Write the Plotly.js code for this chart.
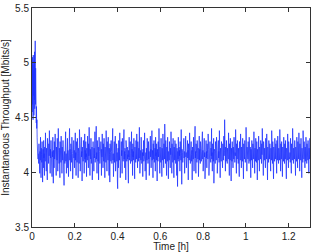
<!DOCTYPE html>
<html><head><meta charset="utf-8">
<script src="https://cdn.plot.ly/plotly-3.0.1.min.js"></script>
<style>html,body{margin:0;padding:0;background:#fff}#c{width:312px;height:252px}</style>
</head><body><div id="c"></div>
<script>
// Start-up transient (time step in hours)
const transientStart = 0;
const transientStep = 0.001;
const transientValues = [4.90,4.55,5.05,4.62,4.98,4.48,5.07,4.70,4.93,4.52,5.02,4.66,5.10,4.58,4.88,5.20,4.62,4.95,4.50,4.78,4.45,4.60,4.40,4.48,4.32,4.25,4.18,4.12];

// Steady-state throughput samples [Mbit/s]
const steadyStart = 0.03;
const steadyStep = 0.001223;
const steadyValues = [
4.17,4.08,4.26,4.13,4.20,3.99,4.19,4.11,4.32,4.14,3.95,4.22,4.16,4.09,4.28,4.12,3.91,4.18,4.21,4.04,
4.29,4.13,4.17,3.97,4.23,4.15,4.10,4.36,4.12,4.19,4.01,4.22,4.14,4.18,3.93,4.31,4.16,4.11,4.20,4.08,
4.26,4.15,4.38,4.10,4.18,3.99,4.21,4.13,4.29,4.09,4.17,4.22,3.96,4.19,4.14,4.32,4.11,3.90,4.20,4.16,
4.04,4.28,4.12,4.18,4.35,4.09,4.21,4.15,3.97,4.23,4.17,4.11,4.31,4.14,4.01,4.20,4.40,4.13,4.19,4.08,
4.22,4.16,3.95,4.28,4.12,4.18,4.09,4.33,4.14,4.20,3.99,4.23,4.17,4.11,4.29,4.13,3.96,4.21,3.88,4.15,
4.19,4.08,4.26,4.14,4.37,4.10,4.17,3.99,4.22,4.16,4.12,4.31,4.04,4.20,4.15,3.96,4.28,4.13,4.18,4.40,
4.11,4.21,4.16,4.01,4.26,4.14,4.19,4.09,4.32,4.12,4.17,3.94,4.23,4.15,4.10,4.29,4.13,4.20,4.04,4.22,
4.16,4.36,4.11,4.18,3.97,4.28,4.14,4.20,4.09,4.31,4.13,4.17,3.95,4.22,4.15,4.19,4.08,4.39,4.12,4.21,
4.01,4.26,4.16,4.11,4.32,4.14,4.19,3.92,4.23,4.13,4.17,4.10,4.29,4.15,4.21,3.99,4.18,4.35,4.12,4.20,
4.09,4.28,4.14,4.17,3.96,4.22,4.16,4.11,4.33,4.13,4.19,4.04,4.26,4.15,4.41,4.10,4.18,3.97,4.21,4.16,
4.12,4.31,4.08,4.20,4.14,4.23,3.93,4.18,4.15,4.28,4.11,4.19,4.01,4.22,4.13,4.17,4.37,4.09,4.21,4.15,
4.26,4.42,4.12,4.18,3.99,4.29,4.14,4.20,4.10,4.23,3.93,4.16,4.32,4.13,4.19,4.08,4.22,4.15,4.11,4.28,
4.17,3.97,4.21,4.14,4.35,4.12,4.18,4.04,4.26,4.16,4.10,4.31,4.13,4.20,3.95,4.23,4.15,4.19,4.09,4.38,
4.14,4.21,4.01,4.28,4.12,4.17,4.11,4.32,4.15,4.20,3.97,4.22,4.16,3.91,4.26,4.13,4.18,4.10,4.29,4.14,
4.19,4.08,4.23,4.15,4.40,4.11,4.17,3.96,4.21,4.14,4.28,4.09,4.18,4.13,4.33,4.01,4.20,4.16,4.12,4.26,
4.10,4.18,3.92,3.85,4.15,4.22,4.04,4.29,4.13,4.19,4.11,4.36,4.14,3.95,4.23,4.17,4.09,4.28,4.15,4.20,
3.99,4.31,4.13,4.18,4.10,4.26,4.16,4.39,4.12,4.19,4.04,4.22,4.14,4.17,3.93,4.29,4.15,4.21,4.10,4.18,
4.23,4.12,4.16,4.01,3.90,4.20,4.14,4.32,4.11,4.19,4.15,4.28,4.08,4.22,4.13,4.17,4.37,4.10,4.21,4.16,
3.97,4.26,4.14,4.19,4.11,4.31,4.15,4.20,3.94,4.23,4.13,4.18,4.09,4.29,4.16,4.12,4.35,4.14,4.21,4.04,
4.28,4.15,4.19,4.10,4.22,4.13,4.41,4.17,3.99,4.26,4.14,4.20,4.11,4.32,4.16,4.08,4.23,4.12,4.18,3.96,
4.21,4.15,4.29,4.10,4.17,4.13,4.36,4.19,4.01,4.26,4.14,4.18,3.93,4.22,4.16,4.11,4.31,4.13,4.20,4.08,
4.15,4.28,4.12,4.19,3.97,4.23,4.16,4.10,4.33,4.14,4.21,4.04,4.18,4.13,4.38,4.11,4.20,4.15,3.95,4.26,
4.17,4.12,4.29,4.09,4.19,4.14,4.22,4.01,4.32,4.15,4.18,4.11,4.26,4.13,3.92,4.21,4.16,4.10,4.28,4.14,
4.19,4.40,4.12,4.17,3.99,4.23,4.15,4.20,4.09,4.31,4.13,4.18,3.96,4.22,4.16,4.11,4.35,4.14,4.19,4.04,
4.26,4.16,4.12,4.44,4.15,4.20,4.08,4.29,4.13,4.18,3.97,4.23,4.17,4.10,4.32,4.14,4.21,3.94,4.19,4.15,
4.11,4.28,4.13,4.18,4.04,4.22,4.16,4.37,4.12,4.20,3.99,4.26,4.14,4.17,4.09,4.31,4.15,4.19,3.95,4.23,
4.16,4.11,4.29,4.13,4.20,4.08,4.26,4.15,4.18,3.97,4.22,4.14,3.87,4.19,4.12,4.32,4.16,4.10,4.23,4.15,
4.20,4.01,4.28,4.13,4.17,4.11,4.39,4.15,3.89,4.21,4.14,4.18,4.09,4.26,4.16,4.12,4.31,4.13,4.19,3.99,
4.22,4.15,4.10,4.33,4.14,4.18,4.04,4.23,4.16,4.12,4.29,4.13,4.20,3.93,4.26,4.15,4.19,4.11,4.36,4.14,
4.17,4.08,4.22,4.13,4.28,4.16,4.10,4.20,3.93,4.23,4.15,4.18,4.12,4.32,4.14,4.01,4.21,4.16,4.11,4.42,
4.13,4.19,3.99,4.26,4.15,4.17,4.09,4.29,4.14,4.20,4.12,4.22,3.96,4.18,4.16,4.33,4.11,4.21,4.14,4.08,
4.28,4.15,4.19,4.10,4.23,4.13,4.17,4.37,4.12,4.20,4.01,4.26,4.16,4.11,4.31,4.14,4.18,3.94,4.22,4.15,
4.10,4.29,4.13,4.19,4.04,4.26,4.15,4.17,4.12,4.35,4.14,4.21,3.97,4.23,4.16,4.11,4.28,4.13,4.19,4.09,
4.22,4.15,4.40,4.12,4.18,4.01,4.26,4.14,4.20,4.10,4.31,3.90,4.16,4.21,4.13,4.19,4.08,4.28,4.15,4.17,
4.11,4.32,4.14,4.20,3.99,4.23,4.16,4.12,4.29,4.13,4.19,4.09,4.38,4.15,4.18,3.95,4.22,4.14,4.17,4.10,
4.28,4.16,4.12,4.21,4.04,4.26,4.14,4.19,4.11,4.33,4.15,4.20,4.48,4.13,4.18,4.01,4.23,4.16,4.10,4.29,
4.14,4.19,4.08,4.22,4.15,4.17,4.12,4.36,4.13,4.20,3.97,4.26,4.16,4.11,4.31,4.14,4.18,3.92,4.22,4.15,
4.10,4.28,4.13,4.19,4.04,4.23,4.16,4.12,4.32,4.14,4.21,4.09,4.18,4.15,4.39,4.11,4.20,3.99,4.26,4.16,
4.12,4.29,4.14,4.18,4.08,4.22,4.15,4.19,3.96,4.28,4.13,4.17,4.11,4.35,4.16,4.20,4.04,4.23,4.14,4.18,
4.10,4.31,4.15,4.21,3.94,4.26,4.13,4.19,4.12,4.29,4.16,4.09,4.22,4.14,4.41,4.11,4.18,4.01,4.23,4.15,
4.19,4.12,4.28,4.14,4.20,4.08,4.32,4.15,4.17,4.10,4.23,4.13,3.95,4.21,4.16,4.11,4.29,4.14,4.19,4.04,
4.26,4.15,4.18,4.12,4.37,4.13,4.20,3.99,4.22,4.16,4.10,4.31,4.14,4.19,4.09,4.28,4.15,3.93,4.21,4.13,
4.17,4.11,4.33,4.14,4.20,4.01,4.23,4.15,4.18,4.12,4.29,4.13,4.19,4.08,4.26,4.16,4.40,4.10,4.21,4.15,
3.97,4.28,4.13,4.18,4.11,4.22,4.16,4.20,4.04,4.31,4.14,4.19,4.12,4.35,4.15,4.17,3.93,4.23,4.14,4.20,
4.09,4.29,4.15,4.18,4.12,4.26,4.13,4.21,4.01,4.22,4.16,4.11,4.38,4.14,4.19,4.08,4.28,4.15,4.17,3.94,
4.23,4.13,4.20,4.10,4.31,4.15,4.18,4.12,4.26,4.14,4.21,3.99,4.29,4.16,4.11,4.33,4.13,4.19,4.08,4.22,
4.15,4.17,4.11,4.39,4.14,4.20,4.01,4.26,4.16,4.12,4.28,4.13,4.19,3.96,4.23,4.15,4.18,4.10,4.32,4.14,
4.21,4.08,4.26,4.16,4.12,4.29,4.13,4.19,3.94,4.22,4.15,4.17,4.11,4.35,4.14,4.20,4.04,4.28,4.16,4.12,
4.23,4.14,4.18,4.09,4.31,4.15,4.21,3.99,4.26,4.13,4.19,4.11,4.40,4.16,4.20,4.08,4.22,4.14,4.17,4.12,
4.29,4.15,4.19,3.97,4.23,4.13,4.18,4.10,4.32,4.16,4.21,4.04,4.28,4.14,4.17,4.12,4.36,4.15,4.20,4.01,
4.26,4.13,4.19,4.11,4.31,4.16,4.18,3.95,4.22,4.14,4.20,4.09,4.38,4.15,4.17,4.12,4.28,4.13,4.21,4.04,
4.23,4.16,4.10,4.32,4.14,4.19,4.08,4.26,4.15,4.18,4.11,4.29,4.13,4.20,3.99,4.22,4.16,4.12,4.31,4.17
];

const xTickVals = [0,0.2,0.4,0.6,0.8,1,1.2];
const yTickVals = [3.5,4,4.5,5,5.5];

const lineStyle = {color:'rgb(30,50,255)', width:0.75};
const traces = [
  {type:'scatter', mode:'lines', x0:transientStart, dx:transientStep, y:transientValues, line:lineStyle, hoverinfo:'skip'},
  {type:'scatter', mode:'lines', x0:steadyStart, dx:steadyStep, y:steadyValues, line:lineStyle, hoverinfo:'skip'}
];

const axisCommon = {
  showline:true, linecolor:'#333', linewidth:1, mirror:'ticks',
  ticks:'inside', ticklen:4, tickcolor:'#333', tickwidth:1,
  showgrid:false, zeroline:false,
  tickfont:{family:'Liberation Sans, Arial, sans-serif', size:10, color:'#222'}
};

const layout = {
  width:312, height:252,
  margin:{l:32, r:2, t:8, b:25},
  paper_bgcolor:'#fff', plot_bgcolor:'#fff',
  showlegend:false,
  font:{family:'Liberation Sans, Arial, sans-serif', size:10, color:'#222'},
  xaxis:Object.assign({}, axisCommon, {
    range:[0,1.3], tickmode:'array', tickvals:xTickVals,
    title:{text:'Time [h]', font:{size:10, color:'#222'}, standoff:0}
  }),
  yaxis:Object.assign({}, axisCommon, {
    range:[3.5,5.5], tickmode:'array', tickvals:yTickVals,
    title:{text:'Instantaneous Throughput [Mbits/s]', font:{size:10, color:'#222'}, standoff:5}
  })
};

Plotly.newPlot('c', traces, layout, {staticPlot:true, displayModeBar:false});
</script>
</body></html>
